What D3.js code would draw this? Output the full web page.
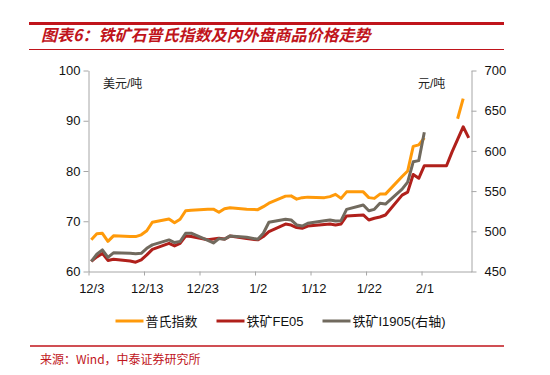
<!DOCTYPE html>
<html><head><meta charset="utf-8">
<script src="https://cdn.jsdelivr.net/npm/d3@7"></script>
<style>body{margin:0;background:#fff} svg{display:block}</style>
</head><body>
<svg id="c" width="550" height="375"></svg>
<script>
// ---- data ----
const dates = ["2018-12-03","2018-12-04","2018-12-05","2018-12-06","2018-12-07",
"2018-12-10","2018-12-11","2018-12-12","2018-12-13","2018-12-14",
"2018-12-17","2018-12-18","2018-12-19","2018-12-20","2018-12-21",
"2018-12-24","2018-12-25","2018-12-26","2018-12-27","2018-12-28",
"2018-12-31","2019-01-02","2019-01-03","2019-01-04",
"2019-01-07","2019-01-08","2019-01-09","2019-01-10","2019-01-11",
"2019-01-14","2019-01-15","2019-01-16","2019-01-17","2019-01-18",
"2019-01-21","2019-01-22","2019-01-23","2019-01-24","2019-01-25",
"2019-01-28","2019-01-29","2019-01-30","2019-01-31","2019-02-01",
"2019-02-04","2019-02-05","2019-02-06","2019-02-07","2019-02-08","2019-02-09"];
const platts = [66.3,67.5,67.6,66.0,67.1,
66.95,66.95,67.3,68.1,69.8,
70.45,69.7,70.4,72.1,72.2,
72.4,72.4,71.8,72.5,72.7,
72.4,72.3,72.9,73.6,
75.0,75.05,74.4,74.7,74.8,
74.7,74.9,75.35,74.55,75.85,
75.85,74.7,74.55,75.4,75.4,
78.9,80.0,84.9,85.2,86.6,
null,null,null,90.4,94.4,null];
const fe05 = [62.0,62.9,63.6,62.2,62.45,
62.1,61.85,62.3,63.3,64.4,
65.6,65.1,65.6,67.05,66.95,
66.3,66.45,66.6,66.45,67.05,
66.55,66.3,66.95,67.95,
69.45,69.25,68.75,68.6,69.05,
69.35,69.45,69.25,69.45,71.05,
71.25,70.25,70.6,70.85,71.25,
75.2,75.8,79.3,78.55,81.05,
81.05,81.05,83.8,86.3,88.8,86.6];
const i1905 = [462.6,471.5,476.9,467.6,473.2,
472.6,472.2,472.6,478.8,483.1,
489.3,486.0,487.2,497.6,497.6,
488.6,485.5,490.9,490.1,494.3,
492.6,490.1,497.6,511.2,
515.0,514.1,507.9,506.5,510.0,
513.2,514.1,512.9,513.2,527.3,
532.7,525.6,527.3,534.8,533.9,
552.5,561.2,586.4,587.9,623.2,
null,null,null,null,null,null];
const xTickDates = ["2018-12-03","2018-12-13","2018-12-23","2019-01-02","2019-01-12","2019-01-22","2019-02-01"];
const xTickLabels = ["12/3","12/13","12/23","1/2","1/12","1/22","2/1"];
const leftTicks = [60,70,80,90,100];
const rightTicks = [450,500,550,600,650,700];
const seriesNames = ["普氏指数","铁矿FE05","铁矿I1905(右轴)"];
const title = "图表6：铁矿石普氏指数及内外盘商品价格走势";
const source = "来源：Wind，中泰证券研究所";

// ---- drawing ----
const svg = d3.select("#c");
const parse = s => new Date(s + "T00:00:00Z");
const DAY = 864e5;
const x = d3.scaleUtc().domain([parse("2018-12-03"), parse("2019-02-10")]).range([88.5, 471.5]);
const yL = d3.scaleLinear().domain([60,100]).range([271.5, 70.5]);
const yR = d3.scaleLinear().domain([450,700]).range([271.5, 70.5]);
const halfDay = (x(parse("2018-12-04")) - x(parse("2018-12-03"))) / 2;
const colors = ["#FF9A0A", "#B0201B", "#716A5E"];
const axisColor = "#A6A6A6";
const font = "'Liberation Sans', Arial, 'Noto Sans CJK SC', sans-serif";

// title block
svg.append("line").attr("x1",29).attr("x2",504).attr("y1",23.5).attr("y2",23.5)
  .attr("stroke","#C0141B").attr("stroke-width",3);
svg.append("text").attr("x",41).attr("y",41).text(title)
  .attr("fill","#C0141B").attr("font-size",16).attr("font-weight","bold")
  .attr("font-style","italic").attr("font-family","'Noto Sans CJK SC', sans-serif");
svg.append("line").attr("x1",29).attr("x2",504).attr("y1",49.5).attr("y2",49.5)
  .attr("stroke","#C0141B").attr("stroke-width",1);

// axes
const gL = svg.append("g").attr("transform","translate(88.5,0)")
  .call(d3.axisLeft(yL).tickValues(leftTicks).tickSize(5).tickSizeOuter(0).tickPadding(3));
const gR = svg.append("g").attr("transform","translate(471.5,0)")
  .call(d3.axisRight(yR).tickValues(rightTicks).tickSize(5).tickSizeOuter(0).tickPadding(8));
const gB = svg.append("g").attr("transform","translate(0,271.5)")
  .call(d3.axisBottom(x).tickValues(xTickDates.map(parse)).tickSize(4).tickSizeOuter(0).tickPadding(8)
    .tickFormat((d,i)=>xTickLabels[i]));
gB.selectAll(".tick text").attr("dx", halfDay);
[gL,gR,gB].forEach(g=>{
  g.selectAll("path,line").attr("stroke",axisColor);
  g.selectAll("text").attr("fill","#111").attr("font-size",13).attr("font-family",font);
});

// unit labels
svg.append("text").attr("x",103).attr("y",88).text("美元/吨")
  .attr("font-size",12).attr("fill","#222").attr("font-family",font);
svg.append("text").attr("x",418).attr("y",88).text("元/吨")
  .attr("font-size",12).attr("fill","#222").attr("font-family",font);

// lines
const mk = (vals, y) => d3.line()
  .defined(d => d[1] != null)
  .x(d => x(parse(d[0])) + halfDay)
  .y(d => y(d[1]))(dates.map((dt,i)=>[dt, vals[i]]));
const seriesData = [[platts,yL],[fe05,yL],[i1905,yR]];
seriesData.forEach(([vals,y],k)=>{
  svg.append("path").attr("d", mk(vals,y)).attr("fill","none")
    .attr("stroke",colors[k]).attr("stroke-width",3)
    .attr("stroke-linejoin","round").attr("stroke-linecap","butt");
});

// legend
const legX = [115.5, 216.5, 322.5];
seriesNames.forEach((n,k)=>{
  svg.append("line").attr("x1",legX[k]).attr("x2",legX[k]+28).attr("y1",321).attr("y2",321)
    .attr("stroke",colors[k]).attr("stroke-width",3);
  svg.append("text").attr("x",legX[k]+30).attr("y",325.5).text(n)
    .attr("font-size",13).attr("fill","#111").attr("font-family",font);
});

// source
svg.append("line").attr("x1",30).attr("x2",504).attr("y1",346).attr("y2",346)
  .attr("stroke","#C0141B").attr("stroke-width",1.5);
svg.append("text").attr("x",40).attr("y",363.5).text(source)
  .attr("font-size",12).attr("fill","#C0141B")
  .attr("font-family","'Noto Sans CJK SC', sans-serif");
</script>
</body></html>
